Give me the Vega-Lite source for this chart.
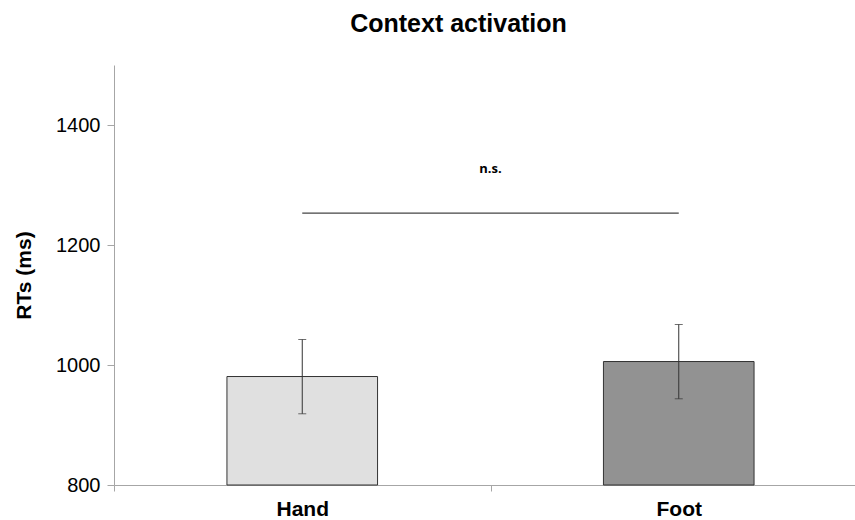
{
  "$schema": "https://vega.github.io/schema/vega-lite/v6.json",
  "autosize": {"type": "none"},
  "padding": {"left": 114, "top": 65, "right": 0, "bottom": 35},
  "width": 753,
  "height": 420,
  "background": "white",
  "title": {
    "text": "Context activation",
    "font": "Liberation Sans",
    "fontSize": 25,
    "fontWeight": "bold",
    "color": "#000000",
    "anchor": "middle",
    "frame": "group",
    "dx": -32,
    "offset": 28
  },
  "datasets": {
    "bars": [
      {"condition": "Hand", "rt": 980.8, "lower": 918.7, "upper": 1042.5},
      {"condition": "Foot", "rt": 1005.8, "lower": 943.7, "upper": 1067.5}
    ],
    "sig": [
      {"from": "Hand", "to": "Foot", "y": 1253, "labelY": 1327.5, "label": "n.s."}
    ]
  },
  "config": {
    "view": {"stroke": null},
    "axis": {
      "domainColor": "#a6a6a6",
      "tickColor": "#a6a6a6",
      "grid": false,
      "labelColor": "#000000",
      "titleColor": "#000000",
      "labelFont": "Liberation Sans",
      "titleFont": "Liberation Sans"
    }
  },
  "layer": [
    {
      "data": {"name": "bars"},
      "mark": {"type": "bar", "width": {"band": 0.4}, "stroke": "#333333", "strokeWidth": 1},
      "encoding": {
        "x": {
          "field": "condition",
          "type": "nominal",
          "scale": {"domain": ["Hand", "Foot"], "paddingInner": 0, "paddingOuter": 0},
          "axis": {
            "title": null,
            "labelAngle": 0,
            "labelFontSize": 21,
            "labelFontWeight": "bold",
            "labelPadding": 7,
            "tickBand": "extent",
            "tickSize": 6
          }
        },
        "y": {
          "field": "rt",
          "type": "quantitative",
          "scale": {"domain": [800, 1500], "zero": false, "nice": false},
          "axis": {
            "title": "RTs (ms)",
            "values": [800, 1000, 1200, 1400],
            "format": "d",
            "labelFontSize": 20,
            "labelPadding": 7,
            "tickSize": 7,
            "titleFontSize": 21,
            "titleFontWeight": "bold",
            "titlePadding": 21
          }
        },
        "y2": {"datum": 800},
        "color": {
          "field": "condition",
          "type": "nominal",
          "scale": {"domain": ["Hand", "Foot"], "range": ["#e0e0e0", "#929292"]},
          "legend": null
        }
      }
    },
    {
      "data": {"name": "bars"},
      "mark": {"type": "rule", "color": "#333333", "strokeWidth": 1},
      "encoding": {
        "x": {"field": "condition", "type": "nominal"},
        "y": {"field": "lower", "type": "quantitative"},
        "y2": {"field": "upper"}
      }
    },
    {
      "data": {"name": "bars"},
      "mark": {"type": "tick", "orient": "horizontal", "color": "#333333", "size": 8, "thickness": 1},
      "encoding": {
        "x": {"field": "condition", "type": "nominal"},
        "y": {"field": "lower", "type": "quantitative"}
      }
    },
    {
      "data": {"name": "bars"},
      "mark": {"type": "tick", "orient": "horizontal", "color": "#333333", "size": 8, "thickness": 1},
      "encoding": {
        "x": {"field": "condition", "type": "nominal"},
        "y": {"field": "upper", "type": "quantitative"}
      }
    },
    {
      "data": {"name": "sig"},
      "mark": {"type": "rule", "color": "#444444", "strokeWidth": 1.3},
      "encoding": {
        "x": {"field": "from", "type": "nominal"},
        "x2": {"field": "to"},
        "y": {"field": "y", "type": "quantitative"}
      }
    },
    {
      "data": {"name": "sig"},
      "mark": {"type": "text", "font": "Open Sans", "fontSize": 13, "fontWeight": "bold", "color": "#000000", "align": "center", "baseline": "middle"},
      "encoding": {
        "x": {"field": "from", "type": "nominal", "bandPosition": 1},
        "y": {"field": "labelY", "type": "quantitative"},
        "text": {"field": "label"}
      }
    }
  ]
}
